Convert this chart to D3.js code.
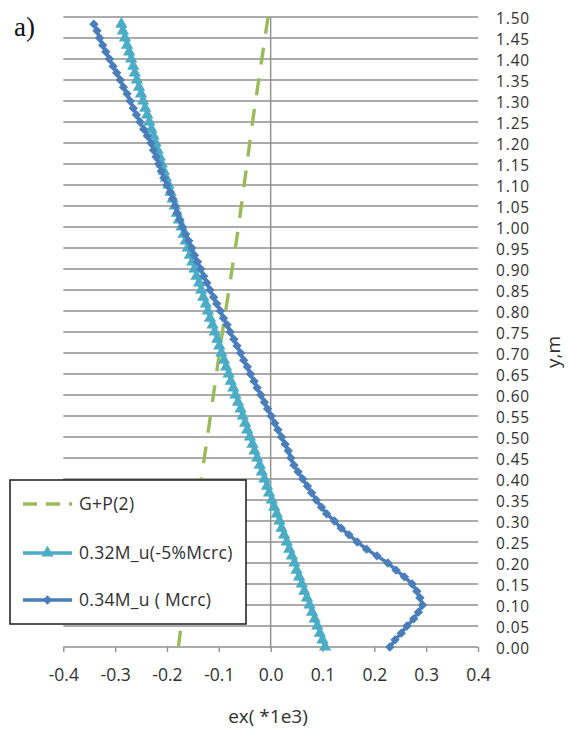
<!DOCTYPE html>
<html>
<head>
<meta charset="utf-8">
<script src="https://cdn.jsdelivr.net/npm/d3@7"></script>
<style>
  html, body { margin: 0; padding: 0; background: #ffffff; }
  svg { display: block; }
  text { font-family: "Open Sans", "Noto Sans", sans-serif; }
</style>
</head>
<body>
<svg id="chart" width="568" height="731"></svg>
<script>
// ---------- data ----------
const seriesNames = ["G+P(2)", "0.32M_u(-5%Mcrc)", "0.34M_u ( Mcrc)"];

// y positions (m) of the plotted points of the two marker series
const yLevels = [0, 0.017, 0.033, 0.05, 0.067, 0.083, 0.1, 0.117, 0.133, 0.15,
  0.167, 0.183, 0.2, 0.217, 0.233, 0.25, 0.267, 0.283, 0.3, 0.317,
  0.333, 0.35, 0.367, 0.383, 0.4, 0.417, 0.433, 0.45, 0.467, 0.483,
  0.5, 0.517, 0.533, 0.55, 0.567, 0.583, 0.6, 0.617, 0.633, 0.65,
  0.667, 0.683, 0.7, 0.717, 0.733, 0.75, 0.767, 0.783, 0.8, 0.817,
  0.833, 0.85, 0.867, 0.883, 0.9, 0.917, 0.933, 0.95, 0.967, 0.983,
  1, 1.017, 1.033, 1.05, 1.067, 1.083, 1.1, 1.117, 1.133, 1.15,
  1.167, 1.183, 1.2, 1.217, 1.233, 1.25, 1.267, 1.283, 1.3, 1.317,
  1.333, 1.35, 1.367, 1.383, 1.4, 1.417, 1.433, 1.45, 1.467, 1.483];

// ex (*1e3) of "0.32M_u(-5%Mcrc)"
const exLight = [0.105, 0.100, 0.095, 0.090, 0.085, 0.080, 0.075, 0.070, 0.065, 0.060,
  0.055, 0.050, 0.046, 0.041, 0.036, 0.031, 0.026, 0.021, 0.017, 0.012,
  0.007, 0.002, -0.003, -0.007, -0.012, -0.017, -0.021, -0.026, -0.031, -0.035,
  -0.040, -0.045, -0.049, -0.054, -0.058, -0.063, -0.068, -0.072, -0.077, -0.081,
  -0.086, -0.090, -0.095, -0.099, -0.103, -0.108, -0.112, -0.117, -0.121, -0.125,
  -0.130, -0.134, -0.138, -0.143, -0.147, -0.151, -0.156, -0.160, -0.164, -0.168,
  -0.172, -0.177, -0.181, -0.185, -0.189, -0.193, -0.197, -0.202, -0.206, -0.210,
  -0.214, -0.218, -0.222, -0.226, -0.230, -0.234, -0.238, -0.242, -0.246, -0.250,
  -0.254, -0.258, -0.262, -0.265, -0.269, -0.273, -0.277, -0.281, -0.285, -0.288];

// ex (*1e3) of "0.34M_u ( Mcrc)"
const exDark = [0.230, 0.240, 0.252, 0.263, 0.276, 0.285, 0.293, 0.288, 0.282, 0.273,
  0.258, 0.242, 0.226, 0.205, 0.185, 0.167, 0.151, 0.136, 0.123, 0.108,
  0.098, 0.088, 0.079, 0.071, 0.062, 0.053, 0.045, 0.039, 0.034, 0.028,
  0.021, 0.014, 0.008, 0.001, -0.006, -0.012, -0.019, -0.026, -0.032, -0.039,
  -0.045, -0.052, -0.058, -0.065, -0.071, -0.078, -0.084, -0.091, -0.097, -0.104,
  -0.110, -0.117, -0.123, -0.129, -0.135, -0.141, -0.147, -0.152, -0.158, -0.164,
  -0.170, -0.175, -0.180, -0.184, -0.189, -0.194, -0.200, -0.206, -0.211, -0.216,
  -0.221, -0.226, -0.231, -0.238, -0.245, -0.252, -0.259, -0.265, -0.271, -0.277,
  -0.284, -0.290, -0.297, -0.304, -0.311, -0.318, -0.324, -0.330, -0.335, -0.341];

// "G+P(2)" (dashed line), listed from the top down
const gpY  = [1.5, 1.25, 1.0, 0.75, 0.5, 0.25, 0];
const gpEx = [-0.005, -0.035, -0.062, -0.093, -0.122, -0.152, -0.178];

const xTicks = [-0.4, -0.3, -0.2, -0.1, 0.0, 0.1, 0.2, 0.3, 0.4];
const yTicks = [0, 0.05, 0.1, 0.15, 0.2, 0.25, 0.3, 0.35, 0.4, 0.45, 0.5, 0.55, 0.6, 0.65,
  0.7, 0.75, 0.8, 0.85, 0.9, 0.95, 1.0, 1.05, 1.1, 1.15, 1.2, 1.25, 1.3, 1.35, 1.4, 1.45, 1.5];

const xTitle = "ex( *1e3)";
const yTitle = "y,m";
const panelLabel = "a)";

// ---------- drawing ----------
const svg = d3.select("#chart");
const C_GREEN = "#9BBB59", C_LIGHT = "#4BACC6", C_DARK = "#4A7EBB";
const GRID = "#8f8f8f", TXT = "#303030";
const FS = "17.5px";

const x = d3.scaleLinear().domain([-0.4, 0.4]).range([63.3, 478]);
const y = d3.scaleLinear().domain([0, 1.5]).range([647, 17]);

// horizontal gridlines
svg.append("g").selectAll("line").data(yTicks).join("line")
  .attr("x1", x(-0.4)).attr("x2", x(0.4))
  .attr("y1", d => y(d)).attr("y2", d => y(d))
  .attr("stroke", GRID).attr("stroke-width", 1.4);

// vertical axis line at ex = 0
svg.append("line")
  .attr("x1", x(0)).attr("x2", x(0))
  .attr("y1", y(1.5)).attr("y2", y(0))
  .attr("stroke", GRID).attr("stroke-width", 1.4);

// x axis ticks + labels
const xAxis = svg.append("g").attr("transform", `translate(0,${y(0)})`)
  .call(d3.axisBottom(x).tickValues(xTicks).tickSize(5).tickPadding(17)
    .tickFormat(d => d.toFixed(1)));
xAxis.select(".domain").remove();
xAxis.selectAll(".tick line").attr("stroke", GRID).attr("stroke-width", 1.4);
xAxis.selectAll(".tick text").attr("fill", TXT).style("font-size", FS)
  .style("font-family", "'Open Sans', sans-serif");

// y axis labels on the right
const yAxis = svg.append("g").attr("transform", `translate(${x(0.4)},0)`)
  .call(d3.axisRight(y).tickValues(yTicks).tickSize(0).tickPadding(18)
    .tickFormat(d => d.toFixed(2)));
yAxis.select(".domain").remove();
yAxis.selectAll(".tick text").attr("fill", TXT).attr("dy", "0.42em")
  .style("font-size", "15.4px").style("letter-spacing", "0.9px")
  .style("font-family", "'Open Sans', sans-serif");

// series
const line = d3.line().x(d => x(d[0])).y(d => y(d[1]));

const gpPts = gpY.map((v, i) => [gpEx[i], v]);
svg.append("path").attr("d", line(gpPts))
  .attr("fill", "none").attr("stroke", C_GREEN).attr("stroke-width", 3.4)
  .attr("stroke-dasharray", "17,14");

const lightPts = yLevels.map((v, i) => [exLight[i], v]);
svg.append("path").attr("d", line(lightPts))
  .attr("fill", "none").attr("stroke", C_LIGHT).attr("stroke-width", 3.5);
const tri = d3.symbol().type(d3.symbolTriangle).size(66);
svg.append("g").selectAll("path").data(lightPts).join("path")
  .attr("d", tri)
  .attr("transform", d => `translate(${x(d[0])},${y(d[1])})`)
  .attr("fill", C_LIGHT);

const darkPts = yLevels.map((v, i) => [exDark[i], v]);
svg.append("path").attr("d", line(darkPts))
  .attr("fill", "none").attr("stroke", C_DARK).attr("stroke-width", 3.5);
const dia = d3.symbol().type(d3.symbolSquare).size(44);
svg.append("g").selectAll("path").data(darkPts).join("path")
  .attr("d", dia)
  .attr("transform", d => `translate(${x(d[0])},${y(d[1])}) rotate(45)`)
  .attr("fill", C_DARK);

// legend
const lg = svg.append("g");
lg.append("rect").attr("x", 10).attr("y", 480).attr("width", 236).attr("height", 144)
  .attr("fill", "#ffffff").attr("stroke", "#1a1a1a").attr("stroke-width", 1.5);
const legendRows = [
  { name: seriesNames[0], color: C_GREEN, ly: 504, dash: "14,9", marker: null },
  { name: seriesNames[1], color: C_LIGHT, ly: 553, dash: null, marker: "tri" },
  { name: seriesNames[2], color: C_DARK, ly: 600, dash: null, marker: "dia" }
];
legendRows.forEach(r => {
  lg.append("line").attr("x1", 23).attr("x2", 72).attr("y1", r.ly).attr("y2", r.ly)
    .attr("stroke", r.color).attr("stroke-width", 3.4)
    .attr("stroke-dasharray", r.dash);
  if (r.marker === "tri") {
    lg.append("path").attr("d", tri).attr("transform", `translate(47.5,${r.ly})`).attr("fill", r.color);
  } else if (r.marker === "dia") {
    lg.append("path").attr("d", dia).attr("transform", `translate(47.5,${r.ly}) rotate(45)`).attr("fill", r.color);
  }
  lg.append("text").attr("x", 79).attr("y", r.ly).attr("dy", "0.36em")
    .attr("fill", TXT).style("font-size", FS).style("letter-spacing", "0.3px").text(r.name);
});

// titles
svg.append("text").attr("x", 268).attr("y", 723).attr("text-anchor", "middle")
  .attr("fill", TXT).style("font-size", "19px").text(xTitle);
svg.append("text").attr("transform", "translate(560,352) rotate(-90)")
  .attr("text-anchor", "middle").attr("fill", TXT).style("font-size", "19px").text(yTitle);
svg.append("text").attr("x", 14).attr("y", 36)
  .style("font-family", "'Liberation Serif', 'Times New Roman', serif")
  .style("font-size", "27px").attr("fill", "#111").text(panelLabel);
</script>
</body>
</html>
